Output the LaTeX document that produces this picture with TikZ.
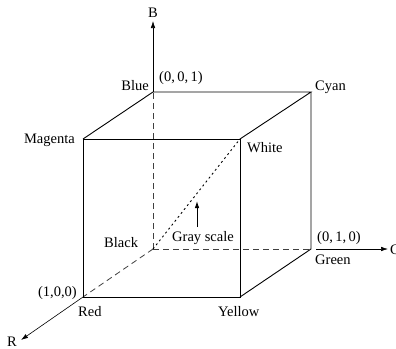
\documentclass[tikz,border=0pt]{standalone}
\usepackage{fontspec}
\setmainfont{Liberation Serif}
\usetikzlibrary{arrows.meta}
\begin{document}
\begin{tikzpicture}[x=1pt,y=-1pt,
  edge/.style={line width=0.9pt},
  hidden/.style={line width=0.8pt, dash pattern=on 6pt off 4pt, black!75},
  diag/.style={line width=0.9pt, dash pattern=on 2pt off 3pt},
  axis/.style={line width=0.6pt, -{Latex[length=7pt,width=4.5pt]}},
  lbl/.style={inner sep=0pt, font=\fontsize{14.5}{16}\selectfont}]
\useasboundingbox (0,0) rectangle (396,348);
% cube corners
\coordinate (black) at (153,249);
\coordinate (blue) at (153,92);
\coordinate (green) at (311,249);
\coordinate (cyan) at (311,92);
\coordinate (red) at (83,297);
\coordinate (magenta) at (83,139);
\coordinate (yellow) at (240,297);
\coordinate (white) at (240,139);
% axis ends
\coordinate (btip) at (153,21);
\coordinate (gstart) at (316,249);
\coordinate (gtip) at (388,249);
\coordinate (rtip) at (21,340);
\coordinate (gs0) at (197,227);
\coordinate (gs1) at (197,201);
% hidden edges
\draw[hidden] (black) -- (blue);
\draw[hidden] (black) -- (green);
\draw[hidden] (black) -- (red);
\draw[diag] (black) -- (white);
% visible edges
\draw[edge] (magenta) -- (white) -- (yellow) -- (red) -- cycle;
\draw[edge] (magenta) -- (blue) -- (cyan) -- (white);
\draw[edge] (cyan) -- (green) -- (yellow);
% axes
\draw[axis] (blue) -- (btip);
\draw[axis] (gstart) -- (gtip);
\draw[axis] (red) -- (rtip);
\draw[line width=0.9pt, -{Latex[length=7pt,width=4.5pt]}] (gs0) -- (gs1);
% labels
\node[lbl, anchor=base] (lB) at (153,17) {B};
\node[lbl, anchor=base east] (lblue) at (149,90) {Blue};
\node[lbl, anchor=base west] (l001) at (159,81) {(0,\,0,\,1)};
\node[lbl, anchor=base west] (lcyan) at (315,90) {Cyan};
\node[lbl, anchor=base east] (lmag) at (75,143) {Magenta};
\node[lbl, anchor=base west] (lwhite) at (247,152) {White};
\node[lbl, anchor=base west] (lblack) at (104,247) {Black};
\node[lbl, anchor=base west] (lgray) at (172,241) {Gray scale};
\node[lbl, anchor=base west] (l010) at (317,241) {(0,\,1,\,0)};
\node[lbl, anchor=base west] (lgreen) at (315,264) {Green};
\node[lbl, anchor=base west] (lG) at (390,254) {G};
\node[lbl, anchor=base east] (l100) at (77,296) {(1,0,0)};
\node[lbl, anchor=base west] (lred) at (78,316) {Red};
\node[lbl, anchor=base west] (lyellow) at (218,316) {Yellow};
\node[lbl, anchor=base west] (lR) at (7,346) {R};
\end{tikzpicture}
\end{document}
